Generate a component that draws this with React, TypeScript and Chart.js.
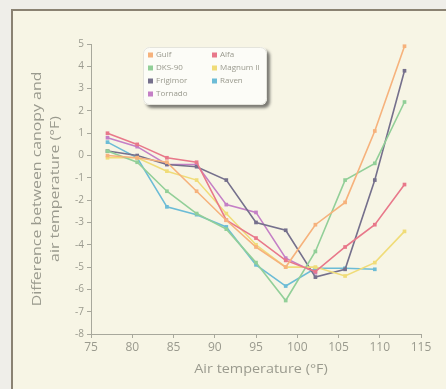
import React, { useEffect, useRef } from "react";
import { Chart, registerables } from "chart.js";
Chart.register(...registerables);

const temps = [77, 80.6, 84.2, 87.8, 91.4, 95, 98.6, 102.2, 105.8, 109.4, 113];
const xTickValues = [75, 80, 85, 90, 95, 100, 105, 110, 115];
const yTickValues = [5, 4, 3, 2, 1, 0, -1, -2, -3, -4, -5, -6, -7, -8];

const seriesNames = ["Gulf", "Alfa", "DKS-90", "Magnum II", "Frigimor", "Raven", "Tornado"];
const gulf = [0.0, -0.1, -0.3, -1.6, -2.9, -4.1, -5.0, -3.1, -2.1, 1.1, 4.9];
const alfa = [1.0, 0.5, -0.1, -0.3, -2.9, -3.7, -4.7, -5.2, -4.1, -3.1, -1.3];
const dks90 = [0.2, -0.3, -1.6, -2.6, -3.3, -4.8, -6.5, -4.3, -1.1, -0.35, 2.4];
const magnum = [-0.1, -0.1, -0.7, -1.1, -2.6, -4.0, -5.0, -5.0, -5.4, -4.8, -3.4];
const frigimor = [0.2, 0.0, -0.4, -0.5, -1.1, -3.0, -3.35, -5.45, -5.1, -1.1, 3.8];
const raven = [0.6, -0.1, -2.3, -2.65, -3.2, -4.9, -5.85, -5.05, -5.05, -5.1, null];
const tornado = [0.8, 0.4, -0.4, -0.4, -2.2, -2.55, -4.6, -5.25, null, null, null];

const seriesValues = [gulf, alfa, dks90, magnum, frigimor, raven, tornado];
const seriesColors = ["#f6b27c", "#e8788a", "#92cf98", "#f0dc78", "#75708c", "#6cbcd6", "#c47fc6"];

const axisColor = "#a8a89c";
const textColor = "#9a9a8e";
const fontFamily = "'Open Sans', 'DejaVu Sans', sans-serif";

const overlayPlugin = {
  id: "overlay",
  afterDraw(chart: any) {
    const ctx = chart.ctx;
    const ca = chart.chartArea;
    ctx.save();
    // axis titles
    ctx.fillStyle = textColor;
    ctx.textAlign = "center";
    ctx.textBaseline = "middle";
    ctx.font = `12px ${fontFamily}`;
    ctx.save();
    ctx.translate(261, 370);
    ctx.scale(1.2, 1);
    ctx.fillText("Air temperature (\u00B0F)", 0, 0);
    ctx.restore();

    const cy = (ca.top + ca.bottom) / 2;
    const lines = ["Difference between canopy and", "air temperature (\u00B0F)"];
    const xs = [37, 55];
    ctx.font = `13px ${fontFamily}`;
    lines.forEach((t, i) => {
      ctx.save();
      ctx.translate(xs[i], cy);
      ctx.rotate(-Math.PI / 2);
      ctx.scale(1.22, 1);
      ctx.fillText(t, 0, 0);
      ctx.restore();
    });

    // legend box
    const bx = 143, by = 47, bw = 124, bh = 58;
    ctx.save();
    ctx.shadowColor = "rgba(40,40,40,0.6)";
    ctx.shadowOffsetX = 3;
    ctx.shadowOffsetY = 3;
    ctx.shadowBlur = 3;
    ctx.fillStyle = "#fcfcf7";
    ctx.beginPath();
    (ctx as any).roundRect(bx, by, bw, bh, 6);
    ctx.fill();
    ctx.restore();
    ctx.strokeStyle = "#e4e4dc";
    ctx.lineWidth = 1;
    ctx.beginPath();
    (ctx as any).roundRect(bx + 0.5, by + 0.5, bw - 1, bh - 1, 6);
    ctx.stroke();

    const positions = [
      [148, 55], [212, 55],
      [148, 68], [212, 68],
      [148, 81], [212, 81],
      [148, 94],
    ];
    ctx.font = `8px ${fontFamily}`;
    ctx.textAlign = "left";
    ctx.textBaseline = "middle";
    chart.data.datasets.forEach((ds: any, i: number) => {
      const [px, py] = positions[i];
      ctx.fillStyle = ds.borderColor;
      ctx.fillRect(px, py - 2.5, 5, 5);
      ctx.fillStyle = textColor;
      ctx.fillText(ds.label, px + 8, py);
    });
    ctx.restore();
  },
};

export default function App() {
  const ref = useRef<HTMLCanvasElement>(null);
  useEffect(() => {
    if (!ref.current) return;
    const datasets = seriesNames.map((name, i) => ({
      label: name,
      data: temps.map((t, j) => ({ x: t, y: seriesValues[i][j] })),
      borderColor: seriesColors[i],
      backgroundColor: seriesColors[i],
      borderWidth: 1.6,
      pointStyle: "rect",
      pointRadius: 2.6,
      pointBorderWidth: 0,
      spanGaps: false,
      tension: 0,
    }));
    const chart = new Chart(ref.current, {
      type: "line",
      data: { datasets },
      options: {
        responsive: false,
        animation: false,
        layout: { padding: { left: 0, top: 44, right: 25, bottom: 0 } },
        plugins: { legend: { display: false }, tooltip: { enabled: false } },
        scales: {
          x: {
            type: "linear",
            min: 75,
            max: 115,
            afterBuildTicks: (s: any) => {
              s.ticks = xTickValues.map((v) => ({ value: v }));
            },
            ticks: { color: textColor, font: { family: fontFamily, size: 12 }, padding: 2 },
            grid: { drawOnChartArea: false, drawTicks: true, tickLength: 4, color: axisColor },
            border: { color: axisColor, width: 1 },
            afterFit: (s: any) => {
              s.height = 55;
            },
          },
          y: {
            type: "linear",
            min: -8,
            max: 5,
            afterBuildTicks: (s: any) => {
              s.ticks = yTickValues.map((v) => ({ value: v }));
            },
            ticks: { color: textColor, font: { family: fontFamily, size: 10 }, padding: 3 },
            grid: { drawOnChartArea: false, drawTicks: true, tickLength: 4, color: axisColor },
            border: { color: axisColor, width: 1 },
            afterFit: (s: any) => {
              s.width = 91;
            },
          },
        },
      },
      plugins: [overlayPlugin],
    } as any);
    return () => chart.destroy();
  }, []);

  return (
    <div style={{ position: "fixed", left: 0, top: 0, width: 446, height: 389, background: "#efeee9", overflow: "hidden" }}>
      <div
        style={{
          position: "absolute",
          left: 11,
          top: 9,
          width: 450,
          height: 400,
          border: "2px solid #8a8272",
          background: "#f7f5e5",
          boxSizing: "border-box",
        }}
      />
      <canvas ref={ref} width={446} height={389} style={{ position: "absolute", left: 0, top: 0, width: 446, height: 389 }} />
    </div>
  );
}
